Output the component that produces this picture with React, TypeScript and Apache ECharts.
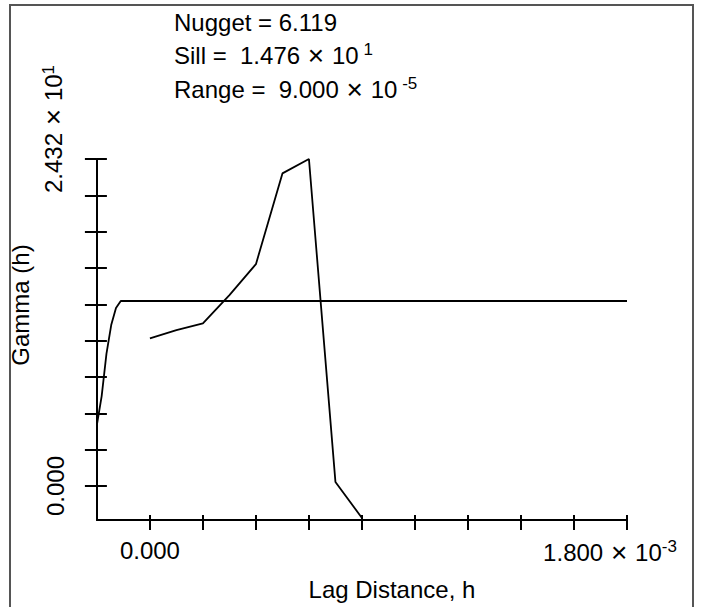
import React, { useEffect, useRef } from 'react';
import * as echarts from 'echarts';

// Axis extents and ticks
const lagMin = -2e-4;
const lagMax = 1.8e-3;
const lagTicks = [0, 2e-4, 4e-4, 6e-4, 8e-4, 1e-3, 1.2e-3, 1.4e-3, 1.6e-3, 1.8e-3];
const lagLabelValues = [0, 1.8e-3];
const gammaMin = -2.53;
const gammaMax = 24.32;
const gammaTicks = [0, 2.702, 5.404, 8.107, 10.809, 13.511, 16.213, 18.916, 21.618, 24.32];
const gammaLabelValues = [0, 24.32];

// Experimental variogram
const experimentalLag = [0, 1e-4, 2e-4, 3e-4, 4e-4, 5e-4, 6e-4, 7e-4, 8e-4];
const experimentalGamma = [10.98, 11.6, 12.1, 14.2, 16.5, 23.25, 24.32, 0.3, -2.38];

// Fitted model (as drawn)
const modelLag = [-2e-4, -1.82e-4, -1.64e-4, -1.46e-4, -1.28e-4, -1.1e-4, 1.8e-3];
const modelGamma = [4.54, 6.69, 9.82, 11.97, 13.24, 13.76, 13.76];

// Header texts
const nuggetText = '6.119';
const sillMantissa = '1.476';
const sillExp = '1';
const rangeMantissa = '9.000';
const rangeExp = '-5';

const FONT = '"Liberation Sans", Arial, sans-serif';
const FS = 24;

export default function App() {
  const ref = useRef<HTMLDivElement>(null);
  useEffect(() => {
    if (!ref.current) return;
    const chart = echarts.init(ref.current, null, { renderer: 'svg' });
    const near = (a: number, b: number) => Math.abs(a - b) < 1e-12;
    const richMain = { fontFamily: FONT, fontSize: FS, color: '#000' };
    const richTimes = { fontFamily: FONT, fontSize: 28, color: '#000' };
    const richSup = { fontFamily: FONT, fontSize: 17, color: '#000', verticalAlign: 'top' as const };
    const rich = { m: richMain, x: richTimes, s: richSup };
    const commonX = {
      type: 'value' as const,
      min: lagMin,
      max: lagMax,
      position: 'bottom' as const,
      splitLine: { show: false },
    };
    const commonY = {
      type: 'value' as const,
      min: gammaMin,
      max: gammaMax,
      position: 'left' as const,
      splitLine: { show: false },
    };
    chart.setOption({
      animation: false,
      backgroundColor: '#fff',
      grid: { left: 95, top: 159, right: 75, bottom: 87, containLabel: false },
      xAxis: [
        {
          ...commonX,
          name: 'Lag Distance, h',
          nameLocation: 'middle',
          nameGap: 57,
          nameTextStyle: { fontFamily: FONT, fontSize: FS, color: '#000', padding: [0, 0, 0, 60] },
          axisLine: { show: true, onZero: false, lineStyle: { color: '#000', width: 2 } },
          axisTick: { show: true, inside: false, length: 10, customValues: lagTicks, lineStyle: { color: '#000', width: 2 } },
          axisLabel: {
            show: true,
            margin: 18,
            customValues: lagLabelValues,
            fontFamily: FONT,
            fontSize: FS,
            color: '#000',
            formatter: (v: number) => (near(v, 0) ? '0.000' : '{m|1.800}{x| × }{m|10}{s|-3}{p| }'),
            rich: { ...rich, p: { width: 34, fontSize: FS } },
          },
        },
        {
          ...commonX,
          axisLine: { show: false, onZero: false },
          axisTick: { show: true, inside: true, length: 5, customValues: lagTicks, lineStyle: { color: '#000', width: 2 } },
          axisLabel: { show: false },
        },
      ],
      yAxis: [
        {
          ...commonY,
          name: 'Gamma (h)',
          nameLocation: 'middle',
          nameGap: 49,
          nameRotate: 90,
          nameTextStyle: { fontFamily: FONT, fontSize: FS, color: '#000', padding: [0, 0, 0, 69] },
          axisLine: { show: true, onZero: false, lineStyle: { color: '#000', width: 2 } },
          axisTick: { show: true, inside: false, length: 12, customValues: gammaTicks, lineStyle: { color: '#000', width: 2 } },
          axisLabel: {
            show: true,
            rotate: 90,
            margin: 29,
            customValues: gammaLabelValues,
            fontFamily: FONT,
            fontSize: FS,
            color: '#000',
            formatter: (v: number) => (near(v, 0) ? '0.000' : '{p| }{m|2.432}{x| × }{m|10}{s|1}'),
            rich: { ...rich, p: { width: 60, fontSize: FS } },
          },
        },
        {
          ...commonY,
          axisLine: { show: false, onZero: false },
          axisTick: { show: true, inside: true, length: 10, customValues: gammaTicks, lineStyle: { color: '#000', width: 2 } },
          axisLabel: { show: false },
        },
      ],
      graphic: [
        {
          type: 'rect',
          shape: { x: 10, y: 5, width: 683, height: 620 },
          style: { fill: 'none', stroke: '#555', lineWidth: 2 },
          silent: true,
        },
        {
          type: 'text',
          x: 174,
          y: 22,
          style: {
            text: `Nugget = ${nuggetText}`,
            fontFamily: FONT,
            fontSize: FS,
            fill: '#000',
            verticalAlign: 'middle',
          },
        },
        {
          type: 'text',
          x: 174,
          y: 55,
          style: {
            text: `{m|Sill =  ${sillMantissa}}{x| × }{m|10}{s| ${sillExp}}`,
            verticalAlign: 'middle',
            rich,
          },
        },
        {
          type: 'text',
          x: 174,
          y: 89,
          style: {
            text: `{m|Range =  ${rangeMantissa}}{x| × }{m|10}{s| ${rangeExp}}`,
            verticalAlign: 'middle',
            rich,
          },
        },
      ],
      series: [
        {
          type: 'line',
          name: 'Model',
          xAxisIndex: 0,
          yAxisIndex: 0,
          showSymbol: false,
          symbol: 'none',
          lineStyle: { color: '#000', width: 1.8 },
          data: modelLag.map((x, i) => [x, modelGamma[i]]),
        },
        {
          type: 'line',
          name: 'Experimental',
          xAxisIndex: 0,
          yAxisIndex: 0,
          showSymbol: false,
          symbol: 'none',
          lineStyle: { color: '#000', width: 1.8 },
          data: experimentalLag.map((x, i) => [x, experimentalGamma[i]]),
        },
      ],
    });
    return () => chart.dispose();
  }, []);
  return (
    <div
      ref={ref}
      style={{ position: 'fixed', left: 0, top: 0, width: 702, height: 607 }}
    />
  );
}
